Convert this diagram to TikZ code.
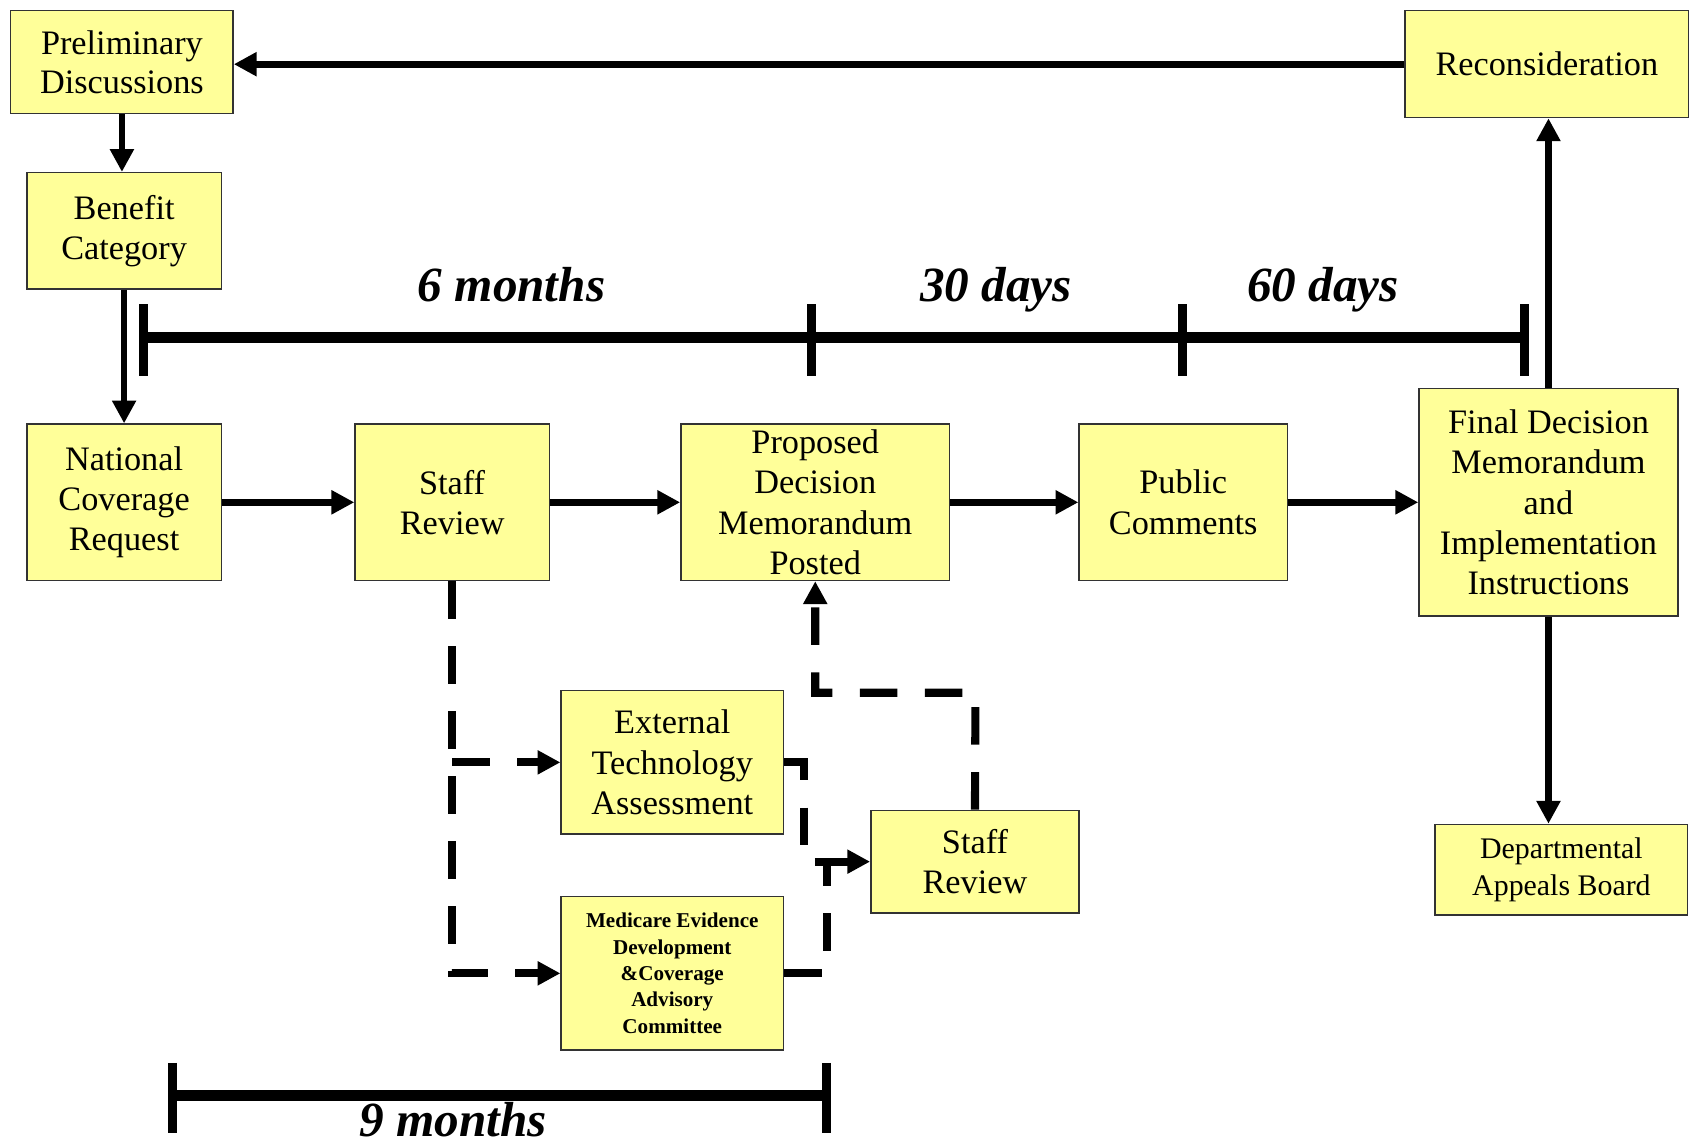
\documentclass[tikz,border=0pt]{standalone}
\usepackage{fontspec}
\setmainfont{Liberation Serif}
\usetikzlibrary{arrows.meta}
\definecolor{boxyellow}{HTML}{FFFF99}
\newlength{\unitpx}
\setlength{\unitpx}{0.021582cm}

\begin{document}
\begin{tikzpicture}[
    x=\unitpx, y=-\unitpx,
    box/.style={draw=black!80, line width=0.8pt, fill=boxyellow, align=center,
      inner sep=0pt, font=\fontsize{19.5}{23}\selectfont},
    flow/.style={line width=3.8pt, -{Triangle[length=13pt,width=13pt]}},
    flowdash/.style={flow, line width=4.6pt, dash pattern=on 0.75cm off 0.55cm},
    span/.style={line width=6.5pt},
    tick/.style={line width=5pt},
    period/.style={anchor=base, font=\fontsize{28}{32}\selectfont\bfseries\itshape}
    ]
    \useasboundingbox (0,0) rectangle (1568,1063);
    % boxes
    \node[box, minimum width=206\unitpx, minimum height=95\unitpx, font=\fontsize{19.5}{22}\selectfont] (prelim) at (113,57.5) {Preliminary\\Discussions};
    \node[box, minimum width=263\unitpx, minimum height=99\unitpx] (recon) at (1433.5,59.5) {Reconsideration};
    \node[box, minimum width=180\unitpx, minimum height=108\unitpx] (benefit) at (115,214) {Benefit\\Category};
    \node[box, minimum width=180\unitpx, minimum height=145\unitpx] (ncr) at (115,465.5) {National\\Coverage\\Request};
    \node[box, minimum width=180\unitpx, minimum height=145\unitpx] (staff) at (419,465.5) {Staff\\Review};
    \node[box, minimum width=249\unitpx, minimum height=145\unitpx] (pdm) at (755.5,465.5) {Proposed\\Decision\\Memorandum\\Posted};
    \node[box, minimum width=193\unitpx, minimum height=145\unitpx] (pc) at (1096.5,465.5) {Public\\Comments};
    \node[box, minimum width=240\unitpx, minimum height=211\unitpx] (final) at (1435,465.5) {Final Decision\\Memorandum\\and\\Implementation\\Instructions};
    \node[box, minimum width=234\unitpx, minimum height=84\unitpx, font=\fontsize{17}{21}\selectfont] (dab) at (1447,806) {Departmental\\Appeals Board};
    \node[box, minimum width=206\unitpx, minimum height=133\unitpx] (eta) at (623,706.5) {External\\Technology\\Assessment};
    \node[box, minimum width=193\unitpx, minimum height=95\unitpx] (staffb) at (903.5,798.5) {Staff\\Review};
    \node[box, minimum width=206\unitpx, minimum height=142\unitpx, font=\fontsize{12}{15}\selectfont\bfseries] (medcac) at (623,902) {Medicare Evidence\\Development\\\&Coverage\\Advisory\\Committee};

    % time spans
    \draw[span] (133,313) -- (1413,313);
    \foreach \t in {133,752,1096,1413}
      \draw[tick] (\t,282) -- (\t,348);
    \node[period] (sixm) at (474,279) {6 months};
    \node[period] (thirtyd) at (923,279) {30 days};
    \node[period] (sixtyd) at (1226,279) {60 days};
    \draw[span] (160,1015) -- (766,1015);
    \foreach \t in {160,766}
      \draw[tick] (\t,985) -- (\t,1050);
    \node[period] (ninem) at (420,1053) {9 months};

    % main flow
    \draw[flow] (recon.west) -- (recon.west -| prelim.east);
    \draw[flow] (prelim.south) -- (prelim.south |- benefit.north);
    \draw[flow] (benefit.south) -- (benefit.south |- ncr.north);
    \draw[flow] (ncr) -- (staff);
    \draw[flow] (staff) -- (pdm);
    \draw[flow] (pdm) -- (pc);
    \draw[flow] (pc) -- (final);
    \draw[flow] (final.north) -- (final.north |- recon.south);
    \draw[flow] (final.south) -- (final.south |- dab.north);

    % review branch
    \coordinate (jeta) at (745,798.5);
    \coordinate (jmed) at (766,798.5);
    \coordinate (jtop) at (904,642);
    \draw[flowdash] (staff.south) -- (staff.south |- medcac.west) -- (medcac.west);
    \draw[flowdash] (staff.south |- eta.west) -- (eta.west);
    \draw[flowdash] (eta.east) -- (eta.east -| jeta) -- (jeta) -- (staffb.west);
    \draw[flowdash, -] (medcac.east) -- (medcac.east -| jmed) -- (jmed);
    \draw[flowdash] (staffb.north) -- (jtop) -- (jtop -| pdm.south) -- (pdm.south);
  \end{tikzpicture}
\end{document}
